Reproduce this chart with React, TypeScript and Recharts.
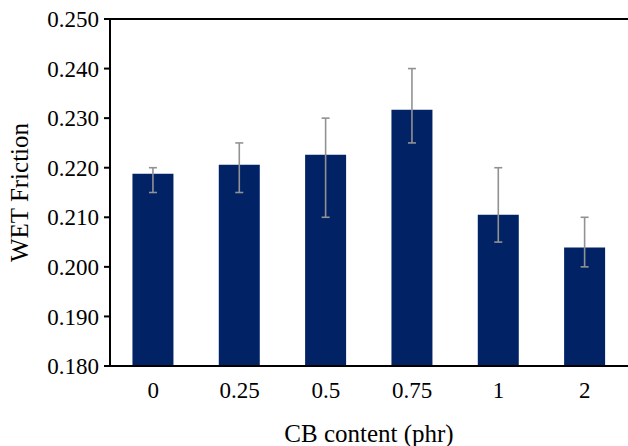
import { Bar, BarChart, ErrorBar, Label, ReferenceLine, XAxis, YAxis } from "recharts";

// CB loading levels and measured wet friction (mean with min/max whiskers)
const categories = ["0", "0.25", "0.5", "0.75", "1", "2"];
const means = [0.2188, 0.2206, 0.2226, 0.2317, 0.2105, 0.2039];
const highs = [0.22, 0.225, 0.23, 0.24, 0.22, 0.21];
const lows = [0.215, 0.215, 0.21, 0.225, 0.205, 0.2];
const yTicks = [0.18, 0.19, 0.2, 0.21, 0.22, 0.23, 0.24, 0.25];

const data = categories.map((name, i) => ({
  name,
  value: means[i],
  err: [means[i] - lows[i], highs[i] - means[i]],
}));

const FONT = "'Liberation Serif', 'Times New Roman', serif";
const titleStyle = { fill: "#000", fontSize: 25, fontFamily: FONT };

const XTick = ({ x, y, payload }: any) => (
  <text x={x} y={y} dy="0.71em" textAnchor="middle" fill="#000" fontSize={23} fontFamily={FONT}>
    {payload.value}
  </text>
);

const YTick = ({ x, y, payload }: any) => (
  <text x={x} y={y} dy="0.355em" textAnchor="end" fill="#000" fontSize={23} fontFamily={FONT}>
    {Number(payload.value).toFixed(3)}
  </text>
);

const App = () => {
  return (
    <div style={{ position: "absolute", left: 0, top: 0, fontFamily: FONT }}>
      <BarChart
        width={628}
        height={446}
        data={data}
        margin={{ top: 19, right: 0, bottom: 0, left: 0 }}
        barCategoryGap="26%"
      >
        <XAxis
          dataKey="name"
          height={80}
          tickLine={false}
          tickMargin={10}
          axisLine={{ stroke: "#000", strokeWidth: 2 }}
          tick={<XTick />}
        >
          <Label value="CB content (phr)" position="insideBottom" offset={4} style={titleStyle} />
        </XAxis>
        <YAxis
          width={110}
          domain={[0.18, 0.25]}
          ticks={yTicks}
          allowDataOverflow
          tickSize={6}
          tickMargin={5}
          axisLine={{ stroke: "#000", strokeWidth: 2 }}
          tickLine={{ stroke: "#000", strokeWidth: 2 }}
          tick={<YTick />}
        >
          <Label
            value="WET Friction"
            angle={-90}
            position="insideLeft"
            offset={19}
            style={{ ...titleStyle, textAnchor: "middle" }}
          />
        </YAxis>
        <ReferenceLine y={0.25} stroke="#000" strokeWidth={2} />
        <Bar dataKey="value" fill="#012366" isAnimationActive={false}>
          <ErrorBar dataKey="err" direction="y" width={4} stroke="#929292" strokeWidth={1.6} />
        </Bar>
      </BarChart>
    </div>
  );
};

export default App;
